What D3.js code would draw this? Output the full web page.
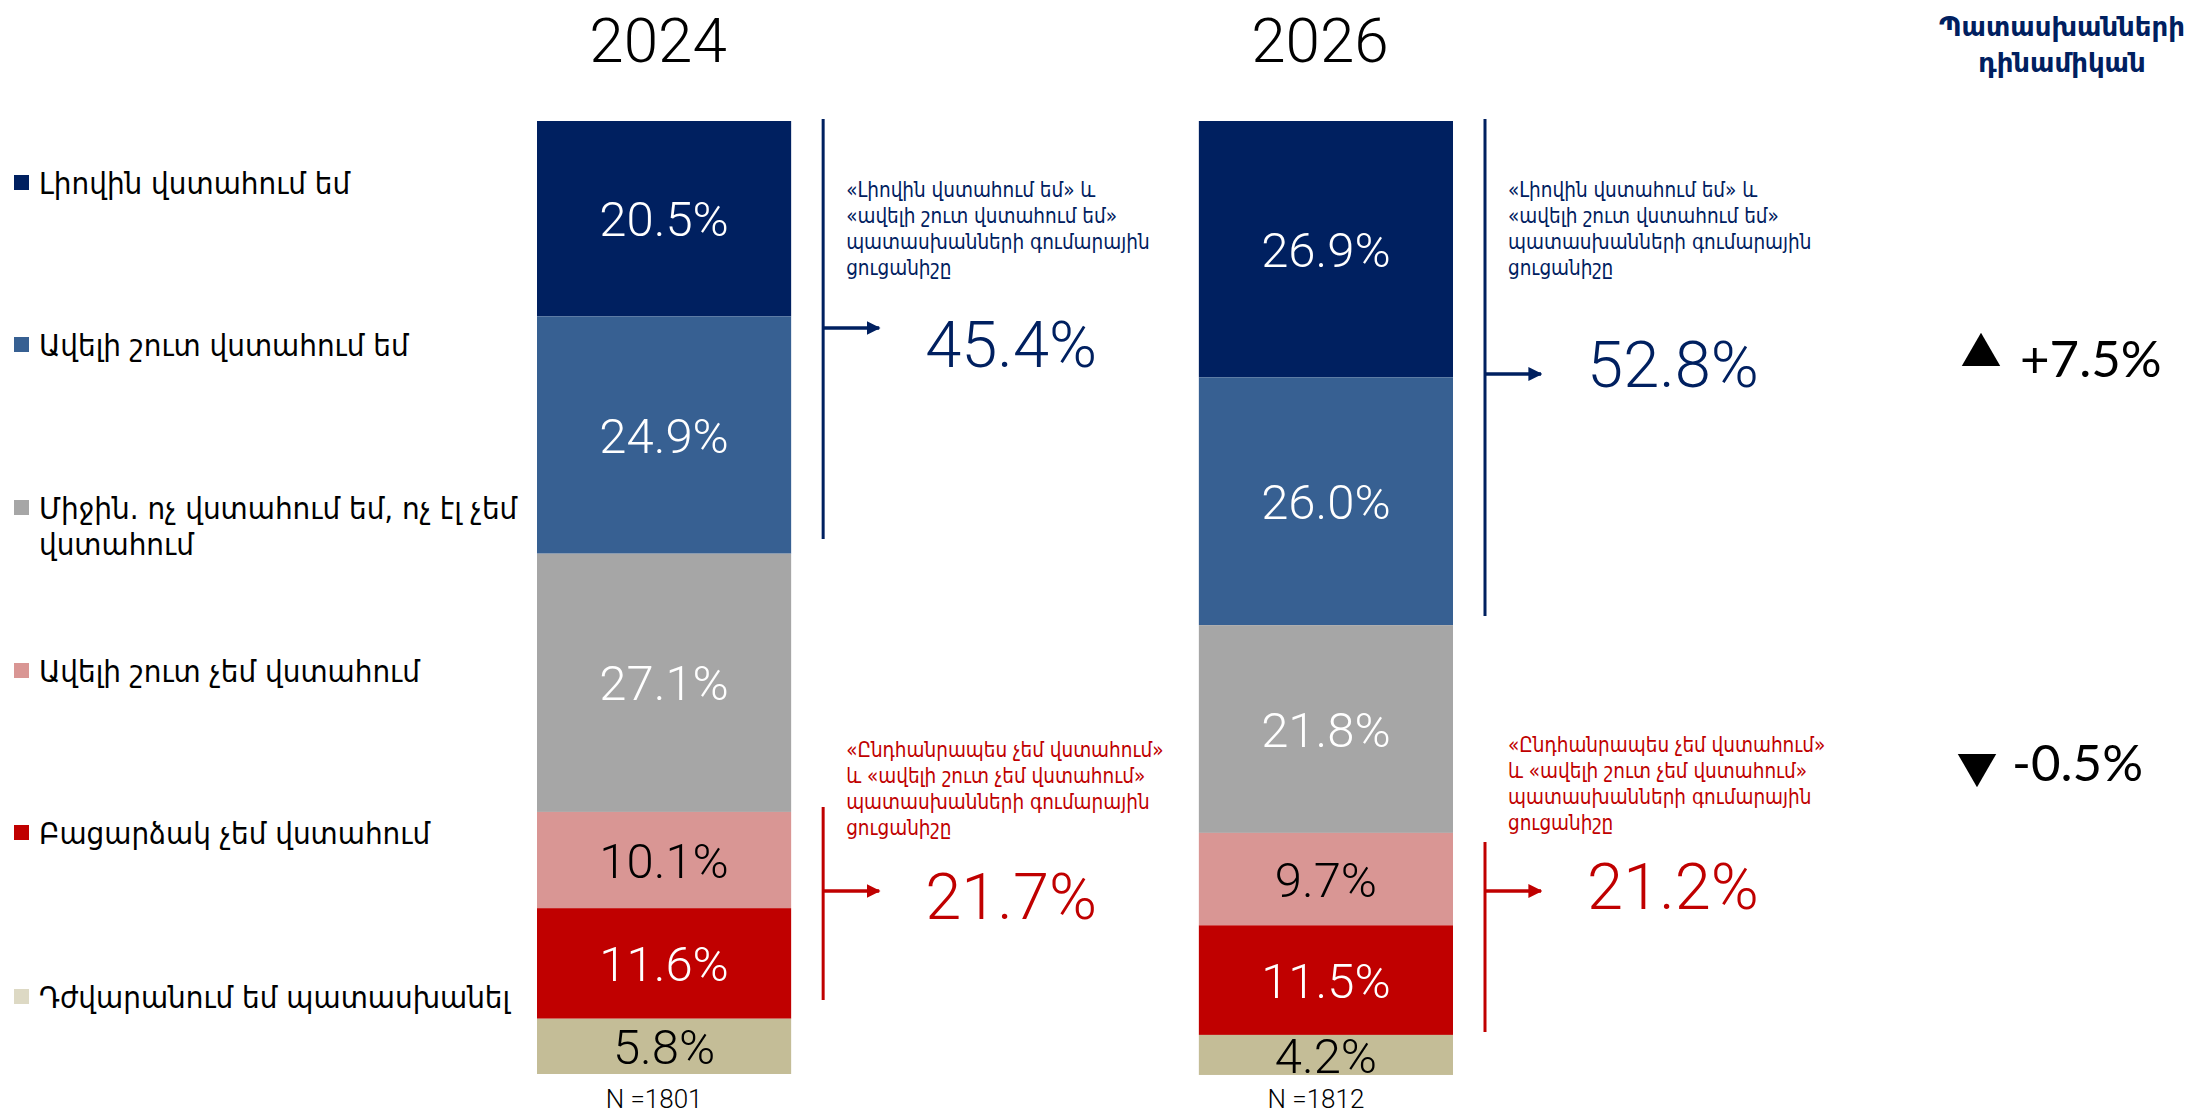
<!DOCTYPE html>
<html>
<head>
<meta charset="utf-8">
<script src="https://cdn.jsdelivr.net/npm/d3@7"></script>
<style>
  html, body { margin: 0; padding: 0; background: #fff; }
  svg { display: block; }
</style>
</head>
<body>
<div id="container"></div>
<script>
// data
var categories = [
  ["Լիովին վստահում եմ"],
  ["Ավելի շուտ վստահում եմ"],
  ["Միջին. ոչ վստահում եմ, ոչ էլ չեմ", "վստահում"],
  ["Ավելի շուտ չեմ վստահում"],
  ["Բացարձակ չեմ վստահում"],
  ["Դժվարանում եմ պատասխանել"]
];
var years = ["2024", "2026"];
var values2024 = [20.5, 24.9, 27.1, 10.1, 11.6, 5.8];
var values2026 = [26.9, 26.0, 21.8, 9.7, 11.5, 4.2];
var sampleLabels = ["N =1801", "N =1812"];
var trustTotals = [45.4, 52.8];
var distrustTotals = [21.7, 21.2];
var changeLabels = ["+7.5%", "-0.5%"];
var trustNote = ["«Լիովին վստահում եմ» և", "«ավելի շուտ վստահում եմ»", "պատասխանների գումարային", "ցուցանիշը"];
var distrustNote = ["«Ընդհանրապես չեմ վստահում»", "և «ավելի շուտ չեմ վստահում»", "պատասխանների գումարային", "ցուցանիշը"];
var dynamicsTitle = ["Պատասխանների", "դինամիկան"];

var w = 2189, h = 1115;
var colors = ["#002060", "#376092", "#A6A6A6", "#D99694", "#C00000", "#C4BD97"];
var legendColors = ["#002060", "#376092", "#A6A6A6", "#D99694", "#C00000", "#DDD9C4"];
var labelColors = ["#fff", "#fff", "#fff", "#000", "#fff", "#000"];
var navy = "#002060", red = "#C00000";
var armFont = "'DejaVu Sans Condensed', 'DejaVu Sans', sans-serif";
var numFont = "Roboto, 'Liberation Sans', sans-serif";

var svg = d3.select("div#container")
  .append("svg")
  .attr("width", w)
  .attr("height", h)
  .attr("viewBox", `0 0 ${w} ${h}`);

svg.append("defs").selectAll("marker")
  .data([["arrNavy", navy], ["arrRed", red]])
  .join("marker")
  .attr("id", d => d[0])
  .attr("viewBox", "0 0 10 10")
  .attr("refX", 9).attr("refY", 5)
  .attr("markerWidth", 4).attr("markerHeight", 4)
  .attr("markerUnits", "strokeWidth")
  .attr("orient", "auto")
  .append("path")
  .attr("d", "M0,0L10,5L0,10Z")
  .attr("fill", d => d[1]);

// scales
var x = d3.scaleBand().domain(years).range([537, 1453]).paddingInner(0.616);
var y = d3.scaleLinear().domain([0, 100]).range([121, 1074]);

// table for the stack
var keys = categories.map((c, i) => "c" + i);
var table = years.map(function(yr, j) {
  var vals = j === 0 ? values2024 : values2026;
  var row = { year: yr };
  keys.forEach((k, i) => row[k] = vals[i]);
  return row;
});
var series = d3.stack().keys(keys)(table);

var bars = svg.append("g").attr("class", "bars");
series.forEach(function(s, i) {
  var g = bars.append("g");
  g.selectAll("rect")
    .data(s)
    .join("rect")
    .attr("x", d => x(d.data.year))
    .attr("y", d => y(d[0]))
    .attr("width", x.bandwidth())
    .attr("height", d => y(d[1]) - y(d[0]))
    .attr("fill", colors[i]);
  g.selectAll("text")
    .data(s)
    .join("text")
    .attr("x", d => x(d.data.year) + x.bandwidth() / 2)
    .attr("y", d => (y(d[0]) + y(d[1])) / 2)
    .attr("dy", "0.36em")
    .attr("text-anchor", "middle")
    .attr("font-family", numFont)
    .attr("font-weight", 300)
    .attr("font-size", 49)
    .attr("fill", labelColors[i])
    .text(d => (d[1] - d[0]).toFixed(1) + "%");
});

// year titles and sample sizes
svg.append("g").selectAll("text")
  .data(years)
  .join("text")
  .attr("x", d => x(d) + x.bandwidth() / 2 - 6)
  .attr("y", 62)
  .attr("text-anchor", "middle")
  .attr("font-family", numFont)
  .attr("font-weight", 300)
  .attr("font-size", 62)
  .attr("fill", "#000")
  .text(d => d);

svg.append("g").selectAll("text")
  .data(sampleLabels)
  .join("text")
  .attr("x", (d, i) => x(years[i]) + x.bandwidth() / 2 - 10)
  .attr("y", 1108)
  .attr("text-anchor", "middle")
  .attr("font-family", numFont)
  .attr("font-weight", 300)
  .attr("font-size", 26)
  .attr("fill", "#000")
  .text(d => d);

// legend
var legendY = [183, 345, 508, 671, 833, 997];
var legend = svg.append("g").selectAll("g")
  .data(categories)
  .join("g")
  .attr("transform", (d, i) => `translate(14,${legendY[i]})`);
legend.append("rect")
  .attr("x", 0).attr("y", -8)
  .attr("width", 15).attr("height", 15)
  .attr("fill", (d, i) => legendColors[i]);
legend.append("text")
  .attr("font-family", armFont)
  .attr("font-size", 31)
  .attr("fill", "#000")
  .selectAll("tspan")
  .data(d => d)
  .join("tspan")
  .attr("x", 25)
  .attr("y", (d, i) => 11 + i * 36)
  .text(d => d);

// bracket annotations, layout per year
var trustLayout = [
  { top: 119, bottom: 539, arrow: 328, numY: 367, textY: 197 },
  { top: 119, bottom: 616, arrow: 374, numY: 387, textY: 197 }
];
var distrustLayout = [
  { top: 807, bottom: 1000, arrow: 891, numY: 919, textY: 757 },
  { top: 842, bottom: 1032, arrow: 891, numY: 909, textY: 752 }
];

function bracket(total, lay, note, color, marker, yr) {
  var lx = x(yr) + x.bandwidth() + 32;
  var g = svg.append("g");
  g.append("line")
    .attr("x1", lx).attr("x2", lx)
    .attr("y1", lay.top).attr("y2", lay.bottom)
    .attr("stroke", color).attr("stroke-width", 3);
  g.append("line")
    .attr("x1", lx).attr("x2", lx + 56)
    .attr("y1", lay.arrow).attr("y2", lay.arrow)
    .attr("stroke", color).attr("stroke-width", 3.5)
    .attr("marker-end", `url(#${marker})`);
  g.append("text")
    .attr("font-family", armFont)
    .attr("font-size", 20.5)
    .attr("fill", color)
    .selectAll("tspan")
    .data(note)
    .join("tspan")
    .attr("x", lx + 23)
    .attr("y", (d, i) => lay.textY + i * 26)
    .text(d => d);
  g.append("text")
    .attr("x", lx + 188)
    .attr("y", lay.numY)
    .attr("text-anchor", "middle")
    .attr("font-family", numFont)
    .attr("font-weight", 300)
    .attr("font-size", 65)
    .attr("fill", color)
    .text(total.toFixed(1) + "%");
}
years.forEach(function(yr, i) {
  bracket(trustTotals[i], trustLayout[i], trustNote, navy, "arrNavy", yr);
  bracket(distrustTotals[i], distrustLayout[i], distrustNote, red, "arrRed", yr);
});

// dynamics column
svg.append("text")
  .attr("font-family", "'DejaVu Sans', sans-serif")
  .attr("font-weight", "bold")
  .attr("font-size", 26)
  .attr("fill", navy)
  .attr("text-anchor", "middle")
  .selectAll("tspan")
  .data(dynamicsTitle)
  .join("tspan")
  .attr("x", 2062)
  .attr("y", (d, i) => 36 + i * 36)
  .text(d => d);

var changeY = [377, 781];
var change = svg.append("g").selectAll("g")
  .data(changeLabels)
  .join("g")
  .attr("transform", (d, i) => `translate(0,${changeY[i]})`);
change.append("path")
  .attr("d", d3.symbol(d3.symbolTriangle).size(640)())
  .attr("transform", (d, i) => i === 0 ? "translate(1981,-22)" : "translate(1977,-16) rotate(180)")
  .attr("fill", "#000");
change.append("text")
  .attr("x", (d, i) => i === 0 ? 2020 : 2012)
  .attr("font-family", "Lato, sans-serif")
  .attr("font-size", 51)
  .attr("fill", "#000")
  .text(d => d);
</script>
</body>
</html>
